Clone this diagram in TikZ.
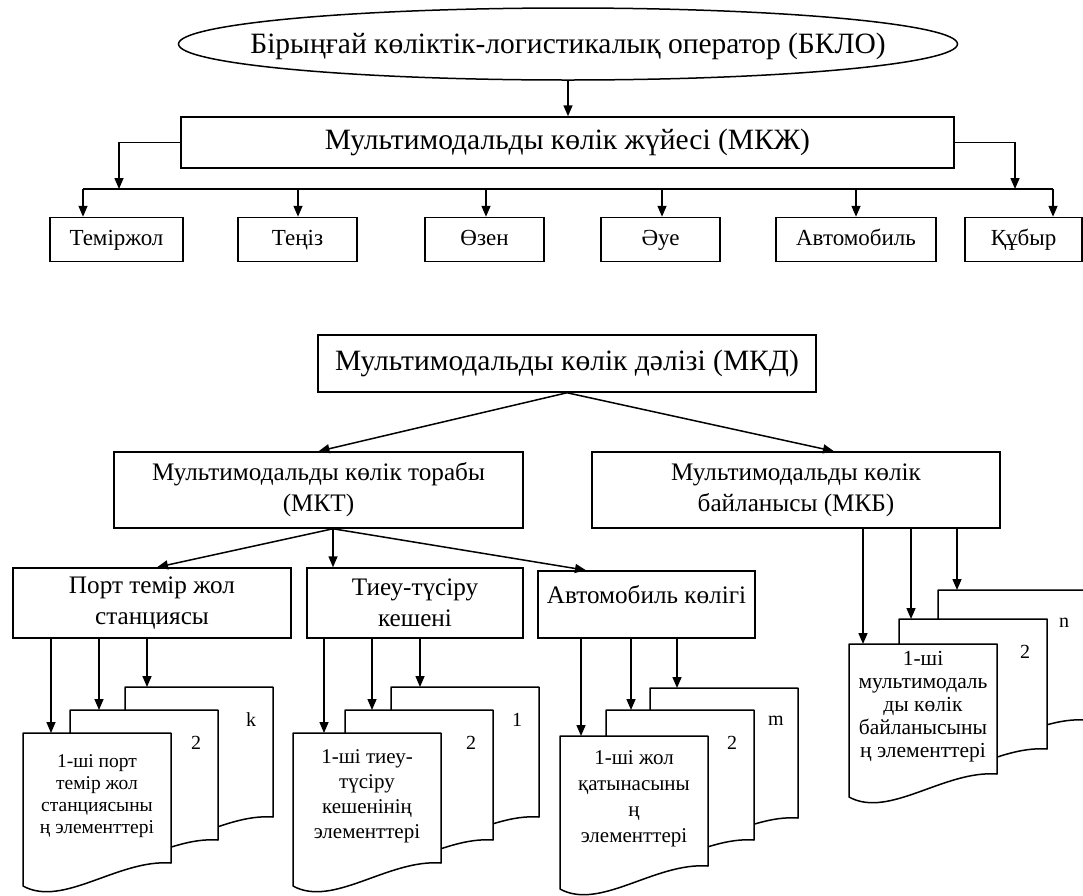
\documentclass[tikz,border=0pt]{standalone}
\usepackage{fontspec}
\setmainfont{Liberation Serif}
\usetikzlibrary{shapes.geometric,arrows.meta}

\begin{document}
\begin{tikzpicture}[x=1pt,y=-1pt,line width=1.5pt,
        arr/.style={-{Triangle[length=11pt,width=9pt]}},
        box/.style={draw,fill=white,inner sep=0pt,align=center},
        big/.style={font=\fontsize{29.5}{34}\selectfont},
        mid/.style={font=\fontsize{25.2}{31}\selectfont},
        mode/.style={box,minimum height=44,text height=16pt,text depth=5pt,font=\fontsize{23}{26}\selectfont},
        page/.style={draw,fill=white,line join=round},
        num/.style={font=\fontsize{20}{24}\selectfont},
        txt/.style={align=center,inner sep=0pt}]
        \useasboundingbox (0,0) rectangle (1083,895);
        \clip (0,0) rectangle (1083,895);

        % 绘制上半部分
        \node[draw,ellipse,minimum width=779,minimum height=72] (bklo) at (568,44) {};
        \node[big] (bklo-text) at ([yshift=-2pt]bklo.center) {Бірыңғай көліктік-логистикалық оператор (БКЛО)};
        \node[box,big,minimum width=773,minimum height=51] (mkzh) at (567.5,142.5) {Мультимодальды көлік жүйесі (МКЖ)};
        \draw[arr] (bklo.south) -- (bklo.south |- mkzh.north);

        \node[mode,minimum width=133] (t1) at (116.5,239.5) {Теміржол};
        \node[mode,minimum width=119] (t2) at (297.5,239.5) {Теңіз};
        \node[mode,minimum width=119] (t3) at (484.5,239.5) {Өзен};
        \node[mode,minimum width=119] (t4) at (660.5,239.5) {Әуе};
        \node[mode,minimum width=160] (t5) at (856,239.5) {Автомобиль};
        \node[mode,minimum width=117] (t6) at (1023.5,239.5) {Құбыр};

        % 绘制总线
        \foreach \i/\x in {1/83,2/298,3/486,4/662,5/856,6/1053}{
          \coordinate (bus\i) at (\x,189);
          \draw[arr] (bus\i) -- (bus\i |- t\i.north);
        }
        \draw (bus1) -- (bus6);
        \coordinate (busl) at (119,189);
        \coordinate (busr) at (1015,189);
        \draw[arr] (mkzh.west) -| (busl);
        \draw[arr] (mkzh.east) -| (busr);

        % 绘制下半部分
        \node[box,big,minimum width=498,minimum height=57] (mkd) at (567,363.5) {Мультимодальды көлік дәлізі (МКД)};
        \node[box,mid,minimum width=409,minimum height=76] (mkt) at (318.5,490) {Мультимодальды көлік торабы\\(МКТ)};
        \node[box,mid,minimum width=408,minimum height=76] (mkb) at (796,490) {Мультимодальды көлік\\байланысы (МКБ)};
        \draw[arr] (mkd.south) -- (mkt.north);
        \draw[arr] (mkd.south) -- ([xshift=38pt]mkb.north);

        \node[box,mid,minimum width=278,minimum height=70] (port) at (152,603) {Порт темір жол\\станциясы};
        \node[box,mid,minimum width=216,minimum height=70] (tieu) at (415,603) {Тиеу-түсіру\\кешені};
        \node[box,mid,minimum width=217,minimum height=67,text depth=20pt] (avto) at (646.5,604.5) {Автомобиль көлігі};
        \coordinate (mkt-out) at ([xshift=14.5pt]mkt.south);
        \draw[arr] (mkt-out) -- ([xshift=5pt]port.north);
        \draw[arr] (mkt-out) -- ([xshift=-82pt]tieu.north);
        \draw[arr] (mkt-out) -- ([xshift=-60.5pt]avto.north);

        % 绘制后面的页
        \foreach \a/\b/\lab/\n/\d in {125/687/k/pk/22, 70/710/2/p2/29, 391/687/1/tl/29, 345/710/2/t2/27,
                                     650/688/m/am/27, 606/710/2/a2/25, 938/590/n/mn/19, 899/619/2/m2/12}{
          \draw[page] (\a,\b) -- (\a+148,\b) -- (\a+148,\b+130) .. controls (\a+95,\b+126) and (\a+40,\b+175) .. (\a,\b+153) -- cycle;
          \node[num] (\n-num) at (\a+126,\b+33) {\lab};
          \coordinate (\n) at (\a+\d,\b);
        }

        % 绘制前面的页
        \foreach \a/\b/\n/\d/\fs/\ls/\tx in {23/733/p1/28/19.5/22/{1-ші порт\\темір жол\\станциясыны\\ң элементтері},
                                     293/733/t1/31/21/25/{1-ші тиеу-\\түсіру\\кешенінің\\элементтері},
                                     560/736/a1/21/21/26/{1-ші жол\\қатынасыны\\ң\\элементтері},
                                     849/644/m1/14/21.5/23/{1-ші\\мультимодаль\\ды көлік\\байланысыны\\ң элементтері}}{
          \draw[page] (\a,\b) -- (\a+148,\b) -- (\a+148,\b+130) .. controls (\a+95,\b+126) and (\a+40,\b+175) .. (\a,\b+153) -- cycle;
          \node[txt,font=\fontsize{\fs}{\ls}\selectfont] (\n-text) at (\a+74,\b+63) {\tx};
          \coordinate (\n) at (\a+\d,\b);
        }

        % 绘制箭头
        \foreach \bx/\p in {port/p1,port/p2,port/pk,tieu/t1,tieu/t2,tieu/tl,
                            avto/a1,avto/a2,avto/am,mkb/m1,mkb/m2,mkb/mn}
          \draw[arr] (\p |- \bx.south) -- (\p);
      \end{tikzpicture}
\end{document}
